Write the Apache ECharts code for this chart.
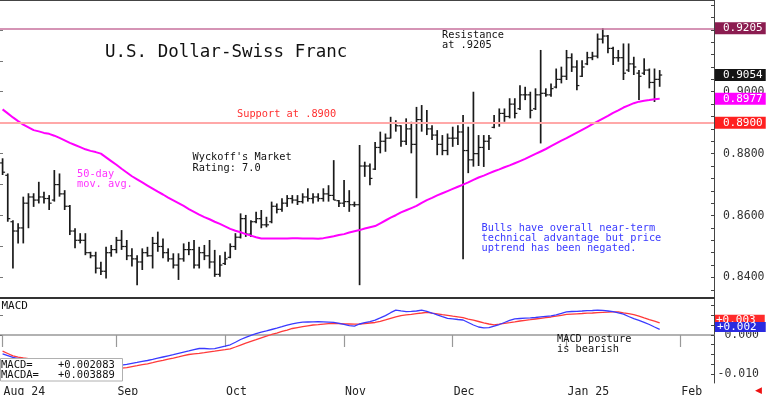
<!DOCTYPE html>
<html><head><meta charset="utf-8">
<script src="https://cdn.jsdelivr.net/npm/echarts@6/dist/echarts.min.js"></script>
<style>html,body{margin:0;padding:0;background:#fff}#c{width:768px;height:395px}</style>
</head><body><div id="c"></div>
<script>
// ---------- categories ----------
const firstDay = '2024-08-01';
const slotCount = 138;
const skippedDays = ['2025-01-01'];
const monthKeys = ['2024-08','2024-09','2024-10','2024-11','2024-12','2025-01','2025-02'];
const monthNames = ['Aug 24','Sep','Oct','Nov','Dec','Jan 25','Feb'];

// ---------- price bars (USD/CHF) ----------
const high = [0.8785,0.8736,0.8585,0.8575,0.8661,0.8672,0.8672,0.8709,0.8677,0.8666,
0.8747,0.8736,0.8682,0.8634,0.8559,0.8543,0.8543,0.8483,0.8483,0.8451,
0.8499,0.8505,0.8531,0.8553,0.8521,0.8494,0.8472,0.8494,0.8499,0.8531,
0.8548,0.8526,0.8494,0.8478,0.8478,0.8510,0.8515,0.8521,0.8499,0.8505,
0.8521,0.8489,0.8472,0.8483,0.8510,0.8543,0.8607,0.8602,0.8585,0.8612,
0.8618,0.8596,0.8645,0.8639,0.8656,0.8666,0.8666,0.8666,0.8672,0.8688,
0.8672,0.8672,0.8688,0.8698,0.8779,0.8650,0.8715,0.8682,0.8645,0.8828,
0.8774,0.8768,0.8838,0.8871,0.8865,0.8919,0.8908,0.8892,0.8914,0.8903,
0.8951,0.8957,0.8941,0.8892,0.8876,0.8860,0.8865,0.8887,0.8892,0.8925,
0.8887,0.9000,0.8860,0.8860,0.8860,0.8925,0.8946,0.8946,0.8979,0.8979,
0.9021,0.9016,0.9000,0.9011,0.9135,0.9011,0.9027,0.9075,0.9081,0.9135,
0.9124,0.9102,0.9102,0.9129,0.9129,0.9188,0.9205,0.9183,0.9145,0.9135,
0.9156,0.9156,0.9113,0.9070,0.9108,0.9075,0.9075,0.9070];
const low = [0.8731,0.8580,0.8429,0.8510,0.8510,0.8559,0.8628,0.8639,0.8639,0.8618,
0.8645,0.8661,0.8618,0.8537,0.8494,0.8510,0.8472,0.8462,0.8413,0.8408,
0.8397,0.8467,0.8478,0.8489,0.8456,0.8435,0.8375,0.8424,0.8467,0.8429,
0.8483,0.8462,0.8451,0.8429,0.8392,0.8451,0.8472,0.8429,0.8429,0.8456,
0.8429,0.8402,0.8402,0.8440,0.8462,0.8489,0.8526,0.8531,0.8531,0.8575,
0.8559,0.8562,0.8575,0.8607,0.8612,0.8628,0.8639,0.8634,0.8639,0.8645,
0.8639,0.8645,0.8645,0.8645,0.8650,0.8628,0.8628,0.8612,0.8628,0.8375,
0.8725,0.8698,0.8747,0.8801,0.8806,0.8849,0.8871,0.8822,0.8828,0.8801,
0.8656,0.8871,0.8860,0.8844,0.8795,0.8795,0.8795,0.8822,0.8828,0.8459,
0.8737,0.8758,0.8760,0.8757,0.8812,0.8882,0.8887,0.8903,0.8914,0.8914,
0.8941,0.8973,0.8914,0.8941,0.8833,0.8984,0.8984,0.9011,0.9027,0.9038,
0.9064,0.9005,0.9048,0.9086,0.9102,0.9108,0.9156,0.9124,0.9086,0.9097,
0.9038,0.9064,0.9054,0.8973,0.9054,0.9011,0.8967,0.9016];
const open = [0.8770,0.8730,0.8580,0.8550,0.8560,0.8640,0.8660,0.8650,0.8660,0.8655,
0.8650,0.8700,0.8670,0.8630,0.8550,0.8520,0.8520,0.8480,0.8470,0.8430,
0.8420,0.8480,0.8490,0.8520,0.8500,0.8470,0.8460,0.8450,0.8480,0.8470,
0.8510,0.8500,0.8480,0.8460,0.8440,0.8460,0.8490,0.8490,0.8440,0.8480,
0.8470,0.8450,0.8410,0.8445,0.8465,0.8500,0.8530,0.8590,0.8540,0.8580,
0.8590,0.8570,0.8580,0.8630,0.8620,0.8640,0.8655,0.8650,0.8645,0.8660,
0.8655,0.8660,0.8655,0.8670,0.8665,0.8648,0.8640,0.8645,0.8635,0.8635,
0.8760,0.8760,0.8750,0.8820,0.8840,0.8850,0.8900,0.8890,0.8840,0.8880,
0.8830,0.8910,0.8900,0.8880,0.8860,0.8830,0.8810,0.8850,0.8850,0.8870,
0.8810,0.8780,0.8800,0.8820,0.8840,0.8885,0.8900,0.8930,0.8920,0.8960,
0.8945,0.8990,0.8990,0.8945,0.8990,0.8995,0.8990,0.9015,0.9040,0.9050,
0.9110,0.9080,0.9050,0.9090,0.9110,0.9115,0.9170,0.9180,0.9140,0.9110,
0.9110,0.9070,0.9090,0.9060,0.9060,0.9070,0.9030,0.9040];
const close = [0.8740,0.8590,0.8550,0.8560,0.8640,0.8660,0.8650,0.8660,0.8655,0.8640,
0.8700,0.8670,0.8630,0.8550,0.8520,0.8520,0.8480,0.8470,0.8430,0.8420,
0.8480,0.8490,0.8520,0.8500,0.8470,0.8460,0.8450,0.8480,0.8470,0.8510,
0.8500,0.8480,0.8460,0.8440,0.8460,0.8490,0.8490,0.8440,0.8480,0.8470,
0.8450,0.8410,0.8440,0.8460,0.8500,0.8530,0.8590,0.8540,0.8580,0.8590,
0.8570,0.8570,0.8630,0.8620,0.8640,0.8655,0.8650,0.8645,0.8660,0.8655,
0.8660,0.8655,0.8670,0.8665,0.8650,0.8640,0.8645,0.8635,0.8635,0.8760,
0.8760,0.8720,0.8820,0.8840,0.8850,0.8900,0.8890,0.8840,0.8880,0.8830,
0.8910,0.8900,0.8880,0.8860,0.8830,0.8810,0.8850,0.8850,0.8870,0.8810,
0.8780,0.8800,0.8820,0.8840,0.8850,0.8900,0.8930,0.8920,0.8960,0.8930,
0.8990,0.8990,0.8940,0.8990,0.8995,0.8990,0.9010,0.9040,0.9050,0.9110,
0.9080,0.9020,0.9080,0.9110,0.9115,0.9170,0.9180,0.9140,0.9110,0.9110,
0.9060,0.9090,0.9080,0.9050,0.9070,0.9030,0.9040,0.9054];

// ---------- 50-day moving average ----------
const ma50 = [0.8943,0.8930,0.8917,0.8905,0.8894,0.8885,0.8876,0.8872,0.8867,0.8864,
0.8858,0.8851,0.8843,0.8835,0.8828,0.8821,0.8814,0.8809,0.8805,0.8800,
0.8788,0.8776,0.8764,0.8751,0.8739,0.8727,0.8717,0.8707,0.8697,0.8687,
0.8677,0.8668,0.8658,0.8649,0.8640,0.8631,0.8621,0.8612,0.8603,0.8595,
0.8588,0.8580,0.8573,0.8565,0.8557,0.8551,0.8546,0.8540,0.8535,0.8530,
0.8526,0.8526,0.8526,0.8526,0.8526,0.8526,0.8527,0.8527,0.8526,0.8526,
0.8526,0.8525,0.8527,0.8530,0.8533,0.8537,0.8540,0.8545,0.8549,0.8553,
0.8558,0.8562,0.8566,0.8575,0.8584,0.8593,0.8601,0.8610,0.8617,0.8624,
0.8631,0.8641,0.8650,0.8657,0.8665,0.8672,0.8679,0.8686,0.8693,0.8700,
0.8707,0.8715,0.8723,0.8729,0.8736,0.8743,0.8749,0.8756,0.8762,0.8769,
0.8776,0.8783,0.8791,0.8799,0.8807,0.8815,0.8824,0.8833,0.8842,0.8850,
0.8859,0.8868,0.8877,0.8886,0.8895,0.8904,0.8913,0.8922,0.8932,0.8940,
0.8949,0.8956,0.8963,0.8968,0.8971,0.8973,0.8976,0.8977];

// ---------- MACD ----------
const macd = [-0.00484,-0.00528,-0.00572,-0.00603,-0.00623,-0.00646,-0.00667,-0.00687,-0.00705,-0.00723,
-0.00741,-0.00759,-0.00777,-0.00795,-0.00803,-0.00813,-0.00821,-0.00831,-0.00838,-0.00844,
-0.00826,-0.00808,-0.00792,-0.00774,-0.00751,-0.00726,-0.00703,-0.00677,-0.00654,-0.00626,
-0.00595,-0.00564,-0.00533,-0.00503,-0.00472,-0.00441,-0.00410,-0.00377,-0.00346,-0.00346,
-0.00354,-0.00349,-0.00318,-0.00287,-0.00251,-0.00185,-0.00115,-0.00059,-0.00010,0.00036,
0.00072,0.00105,0.00141,0.00177,0.00215,0.00254,0.00287,0.00313,0.00328,0.00333,
0.00338,0.00341,0.00336,0.00331,0.00323,0.00300,0.00274,0.00238,0.00228,0.00282,
0.00315,0.00344,0.00382,0.00438,0.00497,0.00572,0.00638,0.00618,0.00600,0.00605,
0.00615,0.00638,0.00603,0.00564,0.00518,0.00469,0.00426,0.00413,0.00397,0.00385,
0.00321,0.00256,0.00205,0.00185,0.00187,0.00228,0.00269,0.00321,0.00374,0.00413,
0.00423,0.00431,0.00438,0.00449,0.00464,0.00477,0.00490,0.00518,0.00556,0.00595,
0.00603,0.00608,0.00615,0.00623,0.00628,0.00638,0.00631,0.00615,0.00597,0.00567,
0.00533,0.00474,0.00421,0.00374,0.00326,0.00269,0.00205,0.00146];
const macdSignal = [-0.00415,-0.00474,-0.00533,-0.00569,-0.00590,-0.00608,-0.00628,-0.00649,-0.00669,-0.00690,
-0.00703,-0.00715,-0.00731,-0.00744,-0.00756,-0.00769,-0.00782,-0.00795,-0.00805,-0.00815,
-0.00823,-0.00833,-0.00841,-0.00851,-0.00836,-0.00810,-0.00787,-0.00762,-0.00738,-0.00710,
-0.00679,-0.00651,-0.00621,-0.00592,-0.00562,-0.00531,-0.00500,-0.00485,-0.00472,-0.00454,
-0.00433,-0.00415,-0.00395,-0.00377,-0.00356,-0.00308,-0.00259,-0.00210,-0.00164,-0.00121,
-0.00074,-0.00031,0.00013,0.00051,0.00090,0.00128,0.00167,0.00190,0.00213,0.00236,
0.00256,0.00267,0.00279,0.00290,0.00300,0.00295,0.00287,0.00282,0.00277,0.00282,
0.00295,0.00308,0.00321,0.00349,0.00387,0.00426,0.00464,0.00497,0.00515,0.00531,
0.00549,0.00564,0.00582,0.00562,0.00544,0.00523,0.00503,0.00482,0.00464,0.00444,
0.00410,0.00379,0.00346,0.00313,0.00282,0.00262,0.00279,0.00300,0.00318,0.00338,
0.00359,0.00377,0.00392,0.00410,0.00428,0.00446,0.00462,0.00482,0.00505,0.00528,
0.00536,0.00544,0.00551,0.00559,0.00564,0.00572,0.00579,0.00585,0.00592,0.00592,
0.00569,0.00549,0.00523,0.00482,0.00438,0.00395,0.00354,0.00310];
const macdReadout = 0.002083;
const signalReadout = 0.003889;

// ---------- levels & ticks ----------
const resistanceLevel = 0.9205;
const supportLevel = 0.8900;
const priceLabelValues = [0.84, 0.86, 0.88, 0.90];
const priceLeftTicks = [0.84, 0.85, 0.86, 0.87, 0.88, 0.89, 0.90, 0.91, 0.92];
const macdLabelValues = [-0.010, 0.000];
const macdTickValues = [-0.0125, -0.010, -0.0075, -0.005, -0.0025, 0, 0.0025, 0.005, 0.0075];

// ---------- build ----------
const dates = [];
(function(){
  const d = new Date(firstDay + 'T00:00:00Z');
  while (dates.length < slotCount) {
    const wd = d.getUTCDay();
    const s = d.toISOString().slice(0, 10);
    if (wd !== 0 && wd !== 6 && skippedDays.indexOf(s) < 0) dates.push(s);
    d.setUTCDate(d.getUTCDate() + 1);
  }
})();
const priceMinorTicks = [];
for (let v = 836; v <= 928; v += 4) priceMinorTicks.push(v / 1000);

function isMonthStart(index, value) {
  return index === 0 || dates[index].slice(0, 7) !== dates[index - 1].slice(0, 7);
}
const MONO = '"DejaVu Sans Mono", "Liberation Mono", monospace';
const ohlcData = high.map((h, i) => [i, open[i], h, low[i], close[i]]);

function renderOHLC(params, api) {
  const i = api.value(0);
  const hi = api.coord([i, api.value(2)]);
  const lo = api.coord([i, api.value(3)]);
  const op = api.coord([i, api.value(1)]);
  const cl = api.coord([i, api.value(4)]);
  const x = hi[0];
  const st = { stroke: '#1a1a1a', lineWidth: 1.7 };
  const tk = { stroke: '#1a1a1a', lineWidth: 1.2 };
  return { type: 'group', children: [
    { type: 'line', shape: { x1: x, y1: hi[1], x2: x, y2: lo[1] }, style: st },
    { type: 'line', shape: { x1: x - 2.5, y1: op[1], x2: x, y2: op[1] }, style: tk },
    { type: 'line', shape: { x1: x, y1: cl[1], x2: x + 2.5, y2: cl[1] }, style: tk }
  ]};
}

const HIDDEN = { color: 'rgba(0,0,0,0)', width: 1, type: 'solid' };
function boxLabel(bg, text, pad) {
  return { show: true, position: 'end', distance: 1, formatter: () => text,
    backgroundColor: bg, color: '#fff', fontFamily: MONO, fontSize: 11,
    lineHeight: pad ? 10 : 11, padding: pad || [1, 3, 0, 8] };
}
const truncMacd = v => '+' + (Math.trunc(v * 1000) / 1000).toFixed(3);
const lastClose = close[close.length - 1];
const lastMa = ma50[ma50.length - 1];

const chart = echarts.init(document.getElementById('c'), null, { renderer: 'canvas' });
chart.setOption({
  animation: false,
  backgroundColor: '#fff',
  grid: [
    { left: 0, right: 54, top: 0, height: 298, outerBoundsMode: 'none' },
    { left: 0, right: 54, top: 298, height: 85, outerBoundsMode: 'none' }
  ],
  xAxis: [
    { type: 'category', gridIndex: 0, data: dates, position: 'bottom',
      axisLine: { show: true, lineStyle: { color: '#333', width: 2 } },
      axisTick: { show: false }, axisLabel: { show: false }, splitLine: { show: false } },
    { type: 'category', gridIndex: 0, data: dates, position: 'top',
      axisLine: { show: true, lineStyle: { color: '#444', width: 2 } },
      axisTick: { show: false }, axisLabel: { show: false }, splitLine: { show: false } },
    { type: 'category', gridIndex: 1, data: dates, position: 'bottom',
      axisLine: { show: true, lineStyle: { color: '#999', width: 1.5 } },
      axisTick: { show: true, alignWithLabel: true, interval: isMonthStart, length: 12,
        lineStyle: { color: '#999', width: 1.2 } },
      axisLabel: { show: true, interval: isMonthStart, align: 'left', margin: 3,
        padding: [0, 0, 0, 1], fontFamily: MONO, fontSize: 11.5, color: '#222',
        formatter: v => monthNames[monthKeys.indexOf(v.slice(0, 7))] },
      splitLine: { show: false } }
  ],
  yAxis: [
    { type: 'value', gridIndex: 0, position: 'right', min: 0.83336, max: 0.92964,
      axisLine: { show: true, lineStyle: { color: '#444', width: 1 } },
      axisTick: { show: true, inside: true, length: 3, customValues: priceMinorTicks,
        lineStyle: { color: '#444' } },
      axisLabel: { show: true, customValues: priceLabelValues, formatter: v => v.toFixed(4),
        margin: 9, fontFamily: MONO, fontSize: 11.5, color: '#333' },
      splitLine: { show: false } },
    { type: 'value', gridIndex: 0, position: 'left', min: 0.83336, max: 0.92964,
      axisLine: { show: false },
      axisTick: { show: true, inside: true, length: 3, customValues: priceLeftTicks,
        lineStyle: { color: '#777' } },
      axisLabel: { show: false }, splitLine: { show: false } },
    { type: 'value', gridIndex: 1, position: 'right', min: -0.012308, max: 0.009487,
      axisLine: { show: true, lineStyle: { color: '#444', width: 1 } },
      axisTick: { show: true, inside: true, length: 3, customValues: macdTickValues,
        lineStyle: { color: '#444' } },
      axisLabel: { show: true, customValues: macdLabelValues, formatter: v => v.toFixed(3),
        align: 'right', margin: 45, fontFamily: MONO, fontSize: 11.5, color: '#333' },
      splitLine: { show: false } },
    { type: 'value', gridIndex: 1, position: 'left', min: -0.012308, max: 0.009487,
      axisLine: { show: false },
      axisTick: { show: true, inside: true, length: 3, customValues: [0, 0.005],
        lineStyle: { color: '#777' } },
      axisLabel: { show: false }, splitLine: { show: false } }
  ],
  series: [
    { type: 'custom', name: 'USD/CHF', xAxisIndex: 0, yAxisIndex: 0,
      data: ohlcData, encode: { x: 0, y: [1, 2, 3, 4] }, renderItem: renderOHLC, z: 3 },
    { type: 'line', name: '50-day', xAxisIndex: 0, yAxisIndex: 0, data: ma50,
      showSymbol: false, symbol: 'none', lineStyle: { color: '#ff00ff', width: 2 }, z: 4,
      markLine: { silent: true, symbol: ['none', 'none'], animation: false, precision: 6,
        data: [
          { yAxis: resistanceLevel, lineStyle: { color: '#c7719c', width: 1.5, type: 'solid' },
            label: boxLabel('#8b1c50', resistanceLevel.toFixed(4)) },
          { yAxis: supportLevel, lineStyle: { color: '#ffa8a8', width: 2, type: 'solid' },
            label: boxLabel('#ff2020', supportLevel.toFixed(4)) },
          { yAxis: lastClose, lineStyle: HIDDEN, label: boxLabel('#151515', lastClose.toFixed(4)) },
          { yAxis: lastMa, lineStyle: HIDDEN, label: boxLabel('#ff00ff', lastMa.toFixed(4)) }
        ] } },
    { type: 'line', name: 'MACDA', xAxisIndex: 2, yAxisIndex: 2, data: macdSignal,
      showSymbol: false, symbol: 'none', lineStyle: { color: '#ff3a3a', width: 1.3 }, z: 3,
      markLine: { silent: true, symbol: ['none', 'none'], animation: false, precision: 6,
        data: [ { yAxis: signalReadout, lineStyle: HIDDEN,
          label: boxLabel('#ff2a2a', truncMacd(signalReadout), [0, 9, 0, 1]) } ] } },
    { type: 'line', name: 'MACD', xAxisIndex: 2, yAxisIndex: 2, data: macd,
      showSymbol: false, symbol: 'none', lineStyle: { color: '#3a3aff', width: 1.3 }, z: 4,
      markLine: { silent: true, symbol: ['none', 'none'], animation: false, precision: 6,
        data: [ { yAxis: macdReadout, lineStyle: HIDDEN,
          label: boxLabel('#2a2ae0', truncMacd(macdReadout), [0, 9, 0, 2]) } ] } }
  ],
  graphic: [
    { type: 'text', x: 105, y: 52.5, z: 100, style: { text: 'U.S. Dollar-Swiss Franc',
      font: '17.5px ' + MONO, fill: '#111', verticalAlign: 'middle' } },
    { type: 'text', x: 442, y: 30, z: 100, style: { text: 'Resistance\nat .9205',
      font: '10.3px ' + MONO, fill: '#111', verticalAlign: 'top', lineHeight: 10.5 } },
    { type: 'text', x: 237, y: 114.7, z: 100, style: { text: 'Support at .8900',
      font: '10.3px ' + MONO, fill: '#ff3030', verticalAlign: 'middle' } },
    { type: 'text', x: 192.5, y: 152, z: 100, style: { text: "Wyckoff's Market\nRating: 7.0",
      font: '10.3px ' + MONO, fill: '#111', verticalAlign: 'top', lineHeight: 10.7 } },
    { type: 'text', x: 77, y: 168.8, z: 100, style: { text: '50-day\nmov. avg.',
      font: '10.3px ' + MONO, fill: '#ff33ff', verticalAlign: 'top', lineHeight: 10.5 } },
    { type: 'text', x: 481.5, y: 223.2, z: 100, style: {
      text: 'Bulls have overall near-term\ntechnical advantage but price\nuptrend has been negated.',
      font: '10.3px ' + MONO, fill: '#3a3aff', verticalAlign: 'top', lineHeight: 10.2 } },
    { type: 'text', x: 557, y: 334.3, z: 100, style: { text: 'MACD posture\nis bearish',
      font: '10.3px ' + MONO, fill: '#111', verticalAlign: 'top', lineHeight: 10.3 } },
    { type: 'text', x: 1.5, y: 306, z: 100, style: { text: 'MACD',
      font: '11px ' + MONO, fill: '#111', verticalAlign: 'middle' } },
    { type: 'rect', z: 100, shape: { x: 0.5, y: 358.5, width: 122, height: 22.5 },
      style: { fill: '#fff', stroke: '#b0b0b0', lineWidth: 1 } },
    { type: 'text', x: 1, y: 365.5, z: 101, style: {
      text: 'MACD=    +' + macdReadout.toFixed(6),
      font: '10.5px ' + MONO, fill: '#111', verticalAlign: 'middle' } },
    { type: 'text', x: 1, y: 375, z: 101, style: {
      text: 'MACDA=   +' + signalReadout.toFixed(6),
      font: '10.5px ' + MONO, fill: '#111', verticalAlign: 'middle' } },
    { type: 'text', x: 755, y: 391, z: 100, style: { text: '\u25C0',
      font: '9px "DejaVu Sans"', fill: '#ee1111', verticalAlign: 'middle' } }
  ]
});
</script>
</body></html>
